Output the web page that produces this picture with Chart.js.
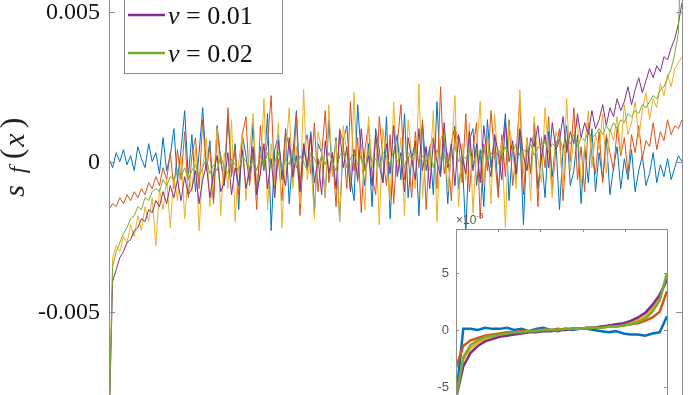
<!DOCTYPE html>
<html>
<head>
<meta charset="utf-8">
<script src="https://cdn.jsdelivr.net/npm/chart.js@4.4.1/dist/chart.umd.min.js"></script>
<style>
  html, body { margin: 0; padding: 0; background: #fff; }
  #wrap { position: relative; width: 700px; height: 395px; overflow: hidden; }
  #main { position: absolute; left: 0; top: 0; }
  #inset { position: absolute; left: 410px; top: 200px; }
</style>
</head>
<body>
<div id="wrap">
  <canvas id="main" width="700" height="395"></canvas>
  <canvas id="inset" width="290" height="195"></canvas>
</div>
<script>
// all values in units of 1e-3
const seriesLabels = ["ν = 0", "ν = 0.001", "ν = 0.005", "ν = 0.01", "ν = 0.02"];
const seriesColors = ["#0072BD", "#D95319", "#EDB120", "#7E2F8E", "#77AC30"];

const mainBlue = [
    0.1, -0.2, 0.3, 0.0, 0.4, -0.1, 0.2, -0.3, 0.5, 0.1, -0.2, 0.6, 0.0, 0.3, -0.4, 0.8, -0.3, 0.2, 1.1, -0.6,
    0.4, 1.7, -0.5, 0.9, -1.0, 0.3, 1.8, -0.2, 0.7, -1.3, 1.2, 0.1, -0.8, 1.5, -0.4, 0.6, -1.6, 0.9, 0.2, -0.7,
    1.3, -1.1, 0.5, -0.3, 1.6, -2.3, 0.4, 0.9, -0.6, 1.1, -1.4, 0.2, 1.7, -0.9, 0.5, -0.2, 1.0, -1.7, 0.6, 0.3,
    -1.2, 1.4, -0.4, 0.8, -2.0, 0.7, 1.2, -0.5, -1.3, 1.9, 0.2, -0.8, 0.6, -1.5, 1.1, 0.4, -0.7, 1.5, -1.9, 0.3,
    0.9, -0.6, 1.6, -1.2, 0.1, 0.7, -1.8, 1.3, -0.3, 0.5, -1.1, 2.0, -0.4, 0.8, -1.4, 0.6, 1.2, -0.9, 0.2, -2.4,
    0.7, 1.1, -0.8, 0.4, -1.5, 1.4, -0.2, 0.9, -1.0, 0.3, 1.6, -1.3, 0.5, -0.6, 1.0, -2.1, 0.8, -0.4, 1.3, -0.9,
    0.2, -1.2, 1.0, -0.5, 0.7, -1.6, 0.4, 1.2, -0.8, -0.3, 0.9, -1.4, 0.5, -0.7, 1.1, -1.0, 0.3, -0.6, 0.8, -1.1,
    -0.2, 0.5, -0.9, 0.1, -0.6, 0.4, -1.0, -0.3, 0.2, -0.8, -0.4, 0.3, -0.7, -0.1, -0.5, 0.1, -0.6, -0.2, 0.2, 0.0
];
const mainOrange = [
    -1.6, -1.4, -1.5, -1.2, -1.4, -1.1, -1.3, -1.0, -1.2, -0.9, -1.1, -0.7, -0.9, -0.5, -0.8, -0.2, -0.6, 0.3, -0.9, 0.4,
    -0.6, 1.0, -1.2, 0.2, 0.8, -0.9, 1.4, -0.3, 0.5, -1.4, 1.1, 0.0, -0.7, 1.8, -0.5, 0.4, -1.1, 0.9, 1.5, -0.8,
    0.3, -1.6, 1.2, -0.2, 0.7, 2.2, -0.9, 0.1, -1.3, 1.0, 0.5, -0.6, 1.6, -1.8, 0.4, 0.9, -0.4, 1.3, -1.0, 0.2,
    1.7, -0.7, 0.3, -1.5, 1.1, 0.6, -0.9, 2.0, -0.3, 0.8, -1.7, 0.4, 1.2, -0.5, -1.1, 1.5, 0.1, -0.8, 0.9, -1.4,
    0.6, 1.9, -0.6, 0.2, -1.2, 1.0, -0.2, 1.4, -1.6, 0.5, 0.8, -0.9, 2.5, -0.4, 0.3, -1.3, 1.1, 0.7, -0.7, 1.6,
    -1.0, 0.4, 1.3, -1.9, 0.6, -0.3, 1.7, 0.2, -1.2, 0.9, -0.5, 1.4, -0.8, 0.3, 2.1, -1.1, 0.5, -0.4, 1.2, -1.5,
    0.8, -0.2, 1.5, -0.9, 0.4, 1.1, -1.3, 0.7, 0.0, 1.8, -0.6, 0.5, -1.0, 1.3, 0.2, -0.4, 1.0, -0.7, 0.9, 0.3,
    -0.3, 1.1, 0.2, 0.8, -0.4, 0.9, 0.3, 1.2, 0.1, 0.7, 0.5, 1.3, 0.4, 1.0, 0.7, 1.4, 0.9, 1.2, 1.1, 1.4
];
const mainYellow = [
    -9.0, -3.2, -2.8, -3.0, -2.5, -2.7, -2.1, -2.5, -1.8, -2.3, -1.5, -2.0, -1.2, -2.8, -0.9, -1.6, -0.6, -2.2, -0.5, -1.3,
    0.2, -1.9, -0.4, -1.0, 0.5, -2.3, -0.2, 0.8, -1.5, -0.6, 1.1, -1.8, 0.3, -0.9, 1.4, -2.0, 0.0, 0.9, -1.3, 0.4,
    1.6, -1.1, -0.3, 2.1, -1.6, 0.6, -0.8, 1.3, -2.2, 0.2, 1.8, -0.9, 0.5, -1.4, 2.4, -0.6, 0.1, -1.9, 1.0, 0.4,
    -1.2, 1.9, -0.5, 0.7, -2.0, 1.2, 0.3, -1.0, 2.3, -0.7, 0.6, -1.6, 1.5, -0.2, 0.9, -2.1, 1.1, 0.0, -1.3, 2.0,
    -0.4, 0.8, -1.8, 1.4, 0.2, -0.9, 2.6, -1.2, 0.5, -0.3, 1.7, -2.0, 0.7, 1.1, -1.0, 0.3, 2.2, -1.5, 0.6, -0.6,
    1.3, -1.7, 0.4, 2.0, -0.8, 0.9, -1.4, 1.6, -0.1, 0.7, -2.2, 1.2, 0.5, -0.9, 2.4, -0.4, 0.8, -1.3, 1.5, 0.1,
    -0.7, 1.8, 0.3, -1.2, 1.0, 0.6, -0.9, 2.1, -0.3, 0.8, 1.4, -0.8, 0.5, 1.7, -0.2, 0.9, 0.4, 1.6, -0.4, 1.1,
    0.7, 1.5, 0.3, 1.9, 0.9, 1.3, 2.0, 0.8, 1.7, 2.3, 1.4, 2.1, 1.8, 2.6, 2.2, 2.9, 2.5, 3.1, 3.3, 3.5
];
const mainPurple = [
    -9.0, -4.0, -3.6, -3.2, -3.0, -2.7, -2.6, -2.3, -2.2, -1.9, -2.0, -1.6, -1.7, -1.3, -1.5, -1.0, -1.4, -0.8, -1.2, -0.6,
    -1.3, -0.5, -1.1, -0.9, -0.3, -1.4, -0.6, -0.1, -1.2, -0.4, 0.2, -1.0, -0.7, 0.3, -1.1, -0.2, -0.8, 0.4, -0.9, -0.3,
    0.5, -1.1, -0.4, 0.6, -0.9, 0.1, -1.2, 0.7, -0.3, -0.8, 0.8, -0.5, 0.2, -1.0, 0.6, -0.2, 0.9, -0.7, 0.1, -1.1,
    0.7, -0.4, 0.3, -0.9, 1.0, -0.2, 0.5, -1.0, 0.4, -0.6, 1.1, -0.3, 0.2, -0.8, 0.9, -0.1, -0.7, 0.6, -0.4, 1.2,
    -0.5, 0.3, -1.0, 0.8, 0.1, -0.6, 1.1, -0.3, 0.5, -0.9, 0.7, 0.0, -0.5, 1.3, -0.2, 0.6, -0.8, 0.9, 0.2, -0.4,
    1.0, -0.3, 0.6, -0.7, 1.2, 0.1, -0.5, 0.9, 0.3, -0.6, 1.3, 0.0, 0.7, -0.4, 1.1, 0.2, -0.3, 0.8, 0.5, 1.2,
    0.1, 0.9, -0.2, 1.3, 0.4, 0.7, 1.5, 0.3, 1.0, 0.6, 1.6, 0.8, 1.3, 0.9, 1.7, 1.1, 1.4, 1.9, 1.2, 1.8,
    1.5, 2.1, 1.7, 2.0, 2.5, 1.9, 2.4, 2.8, 2.3, 2.7, 3.1, 2.8, 3.2, 3.0, 3.5, 3.4, 3.8, 4.1, 4.6, 5.3
];
const mainGreen = [
    -9.0, -3.5, -3.0, -2.7, -2.4, -2.2, -1.9, -1.8, -1.5, -1.6, -1.2, -1.3, -1.0, -0.9, -1.0, -0.6, -0.8, -0.5, -0.6, -0.3,
    -0.5, -0.2, -0.6, -0.3, -0.1, -0.5, -0.2, 0.1, -0.4, -0.1, -0.3, 0.2, -0.2, -0.4, 0.1, -0.1, -0.3, 0.2, 0.0, -0.2,
    0.1, -0.3, 0.2, -0.1, 0.3, -0.2, 0.0, 0.3, -0.3, 0.1, -0.1, 0.4, -0.2, 0.2, 0.0, -0.3, 0.3, 0.1, -0.2, 0.2,
    -0.1, 0.3, 0.0, -0.3, 0.2, 0.4, -0.2, 0.1, 0.3, -0.1, 0.2, -0.3, 0.4, 0.0, 0.1, -0.2, 0.3, 0.2, -0.1, 0.4,
    0.0, 0.2, -0.2, 0.3, 0.1, 0.4, -0.1, 0.2, 0.0, 0.3, -0.2, 0.4, 0.1, 0.2, -0.1, 0.3, 0.5, 0.0, 0.2, 0.1,
    0.4, -0.1, 0.3, 0.2, 0.5, 0.0, 0.3, 0.1, 0.4, 0.2, 0.5, 0.1, 0.3, 0.6, 0.2, 0.4, 0.3, 0.6, 0.2, 0.5,
    0.4, 0.7, 0.3, 0.6, 0.5, 0.8, 0.4, 0.7, 0.6, 0.9, 0.5, 0.8, 0.7, 1.0, 0.8, 0.9, 1.1, 0.9, 1.2, 1.0,
    1.3, 1.1, 1.4, 1.3, 1.6, 1.5, 1.7, 1.6, 1.9, 1.8, 2.0, 2.2, 2.1, 2.4, 2.5, 2.8, 3.1, 3.6, 4.3, 8.0
];

// smoothed curves in the inset
const insetBlue = [
    -6.0, 0.1, 0.1, 0.0, 0.2, 0.1, 0.1, 0.2, 0.0, 0.1,
    -0.1, 0.1, 0.2, 0.0, -0.1, 0.1, 0.0, 0.1, 0.1, 0.0,
    -0.1, -0.2, -0.1, -0.3, -0.4, -0.4, -0.5, -0.3, -0.2, 1.2
];
const insetOrange = [
    -3.3, -1.4, -0.9, -0.7, -0.5, -0.4, -0.3, -0.2, -0.2, -0.1,
    -0.1, 0.0, 0.0, 0.0, 0.1, 0.0, 0.1, 0.1, 0.1, 0.2,
    0.2, 0.3, 0.3, 0.4, 0.5, 0.6, 0.8, 1.1, 1.6, 3.4
];
const insetYellow = [
    -6.0, -2.6, -1.6, -1.1, -0.8, -0.6, -0.5, -0.4, -0.3, -0.2,
    -0.1, -0.1, 0.0, 0.0, 0.0, 0.1, 0.1, 0.1, 0.2, 0.2,
    0.3, 0.3, 0.4, 0.5, 0.6, 0.9, 1.2, 1.9, 2.9, 4.6
];
const insetPurple = [
    -6.0, -3.2, -2.0, -1.4, -1.0, -0.8, -0.6, -0.5, -0.4, -0.3,
    -0.2, -0.2, -0.1, -0.1, 0.0, 0.0, 0.1, 0.1, 0.2, 0.2,
    0.3, 0.4, 0.5, 0.6, 0.8, 1.1, 1.5, 2.2, 3.1, 4.4
];
const insetGreen = [
    -6.0, -2.4, -1.3, -0.9, -0.6, -0.5, -0.4, -0.3, -0.2, -0.2,
    -0.1, -0.1, 0.0, 0.0, 0.0, 0.1, 0.1, 0.1, 0.2, 0.2,
    0.2, 0.3, 0.3, 0.4, 0.5, 0.7, 1.0, 1.6, 2.6, 5.0
];

const mainTicks = [-5, 0, 5];
const insetTicks = [-5, 0, 5];
const insetXTicks = [0.2, 0.4, 0.6, 0.8];

const mainSeries = [mainBlue, mainOrange, mainYellow, mainPurple, mainGreen];
const insetSeries = [insetBlue, insetOrange, insetYellow, insetPurple, insetGreen];

function toPoints(arr) {
    return arr.map((v, i) => ({ x: i / (arr.length - 1), y: v }));
}

function makeDatasets(series, width) {
    return series.map((arr, k) => ({
        label: seriesLabels[k],
        data: toPoints(arr),
        borderColor: seriesColors[k],
        borderWidth: width,
        pointRadius: 0,
        tension: 0,
        order: series.length - k, // later series on top, like matlab
    }));
}

const SERIF = "'Liberation Serif', 'Times New Roman', serif";
const SANS = "'Liberation Sans', Arial, sans-serif";

function rotGlyph(ctx, text, x, y, font) {
    ctx.save();
    ctx.translate(x, y);
    ctx.rotate(-Math.PI / 2);
    ctx.font = font;
    ctx.textAlign = "center";
    ctx.textBaseline = "middle";
    ctx.fillText(text, 0, 0);
    ctx.restore();
}

// axes box, inward ticks, tick labels, y label and legend of the main plot
const mainDecor = {
    id: "mainDecor",
    afterDatasetsDraw(chart) {
        const { ctx, chartArea: a, scales } = chart;
        const y = scales.y;
        ctx.save();
        ctx.strokeStyle = "#8c8c8c";
        ctx.lineWidth = 1;
        ctx.beginPath();
        ctx.moveTo(a.left + 0.5, 0);
        ctx.lineTo(a.left + 0.5, a.bottom);
        ctx.moveTo(a.right + 0.5, 0);
        ctx.lineTo(a.right + 0.5, a.bottom);
        mainTicks.forEach(v => {
            const py = Math.round(y.getPixelForValue(v)) + 0.5;
            ctx.moveTo(a.left, py);
            ctx.lineTo(a.left + 6, py);
            ctx.moveTo(a.right - 6, py);
            ctx.lineTo(a.right, py);
        });
        ctx.stroke();

        ctx.fillStyle = "#111";
        ctx.font = "24px " + SERIF;
        ctx.textAlign = "right";
        ctx.textBaseline = "middle";
        mainTicks.forEach(v => {
            const label = v === 0 ? "0" : (v / 1000).toFixed(3);
            ctx.fillText(label, a.left - 9, y.getPixelForValue(v) + 1);
        });

        // y axis label s_f(x)
        ctx.fillStyle = "#222";
        rotGlyph(ctx, "s", 16, 191, "italic 30px " + SERIF);
        rotGlyph(ctx, "f", 19, 170, "italic 24px " + SERIF);
        rotGlyph(ctx, "(", 14, 154, "32px " + SERIF);
        rotGlyph(ctx, "x", 16, 140, "italic 30px " + SERIF);
        rotGlyph(ctx, ")", 14, 123, "32px " + SERIF);

        // legend (upper entries are above the visible area)
        const lx = 124, rx = 282, bottom = 73, rowGap = 38;
        const n = seriesLabels.length;
        ctx.fillStyle = "#fff";
        ctx.fillRect(lx, -200, rx - lx, bottom + 200);
        ctx.strokeStyle = "#8c8c8c";
        ctx.lineWidth = 1;
        ctx.strokeRect(lx + 0.5, -200, rx - lx, bottom + 200.5);
        for (let k = 0; k < n; k++) {
            const ry = 53 - rowGap * (n - 1 - k);
            ctx.strokeStyle = seriesColors[k];
            ctx.lineWidth = 2.5;
            ctx.beginPath();
            ctx.moveTo(128, ry);
            ctx.lineTo(165, ry);
            ctx.stroke();
            const parts = seriesLabels[k].split(" ");
            ctx.fillStyle = "#111";
            ctx.textBaseline = "middle";
            ctx.textAlign = "left";
            ctx.font = "italic 26px " + SERIF;
            ctx.fillText(parts[0], 168, ry + 2);
            const w = ctx.measureText(parts[0]).width;
            ctx.font = "26px " + SERIF;
            ctx.fillText(" " + parts.slice(1).join(" "), 168 + w, ry + 2);
        }
        ctx.restore();
    },
};

new Chart(document.getElementById("main"), {
    type: "line",
    data: { datasets: makeDatasets(mainSeries, 1) },
    options: {
        responsive: false,
        animation: false,
        devicePixelRatio: 1,
        layout: { padding: { left: 109, right: 18, top: 0, bottom: 0 } },
        plugins: { legend: { display: false }, tooltip: { enabled: false } },
        scales: {
            x: { type: "linear", min: 0, max: 1, display: false },
            y: { min: -7.78, max: 5.39, display: false },
        },
    },
    plugins: [mainDecor],
});

// inset: white box, frame, inward ticks, labels and the x10^-3 note
const insetDecor = {
    id: "insetDecor",
    beforeDatasetsDraw(chart) {
        const { ctx, chartArea: a } = chart;
        ctx.save();
        ctx.fillStyle = "#fff";
        ctx.fillRect(a.left, a.top, a.right - a.left, a.bottom - a.top);
        ctx.restore();
    },
    afterDatasetsDraw(chart) {
        const { ctx, chartArea: a, scales } = chart;
        ctx.save();
        ctx.strokeStyle = "#8c8c8c";
        ctx.lineWidth = 1;
        ctx.strokeRect(a.left + 0.5, a.top + 0.5, a.right - a.left, a.bottom - a.top + 5);
        ctx.beginPath();
        insetXTicks.forEach(v => {
            const px = Math.round(scales.x.getPixelForValue(v)) + 0.5;
            ctx.moveTo(px, a.top);
            ctx.lineTo(px, a.top + 3);
        });
        insetTicks.forEach(v => {
            const py = Math.round(scales.y.getPixelForValue(v)) + 0.5;
            ctx.moveTo(a.left, py);
            ctx.lineTo(a.left + 3, py);
            ctx.moveTo(a.right - 3, py);
            ctx.lineTo(a.right, py);
        });
        ctx.stroke();

        ctx.fillStyle = "#555";
        ctx.font = "13px " + SANS;
        ctx.textAlign = "right";
        ctx.textBaseline = "middle";
        insetTicks.forEach(v => {
            ctx.fillText(String(v), a.left - 7, scales.y.getPixelForValue(v));
        });

        ctx.textAlign = "left";
        ctx.textBaseline = "alphabetic";
        ctx.font = "12px " + SANS;
        ctx.fillText("×10", a.left, a.top - 5);
        const w = ctx.measureText("×10").width;
        ctx.font = "8px " + SANS;
        ctx.fillText("-3", a.left + w, a.top - 11);
        ctx.restore();
    },
};

new Chart(document.getElementById("inset"), {
    type: "line",
    data: { datasets: makeDatasets(insetSeries, 2.5) },
    options: {
        responsive: false,
        animation: false,
        devicePixelRatio: 1,
        layout: { padding: { left: 46, right: 33, top: 29, bottom: 0 } },
        plugins: { legend: { display: false }, tooltip: { enabled: false } },
        scales: {
            x: { type: "linear", min: 0, max: 1, display: false },
            y: { min: -5.7, max: 8.86, display: false },
        },
    },
    plugins: [insetDecor],
});
</script>
</body>
</html>
